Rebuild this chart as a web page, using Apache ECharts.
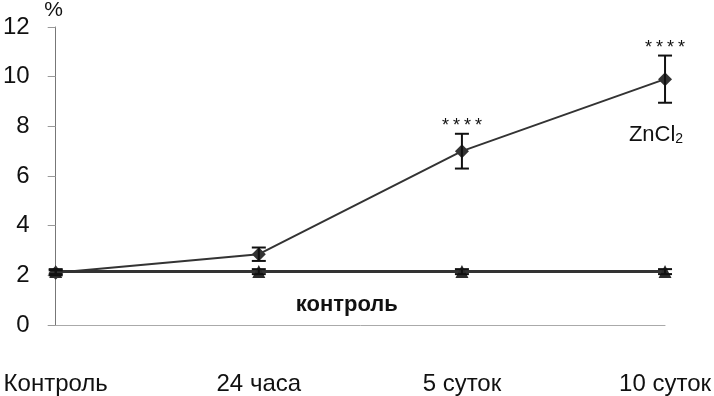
<!DOCTYPE html>
<html>
<head>
<meta charset="utf-8">
<script src="https://cdn.jsdelivr.net/npm/echarts@6/dist/echarts.min.js"></script>
<style>html,body{margin:0;padding:0;background:#fff}#c{width:714px;height:396px}</style>
</head>
<body>
<div id="c"></div>
<script>
const categories = ['Контроль', '24 часа', '5 суток', '10 суток'];
const zncl2 = [2.1, 2.85, 7.0, 9.9];
const zncl2Err = [0.1, 0.27, 0.7, 0.95];
const control = [2.15, 2.15, 2.15, 2.15];
const controlErr = [0.1, 0.1, 0.1, 0.1];
const significance = ['', '', '****', '****'];
const yTicks = [0, 2, 4, 6, 8, 10, 12];

const FONT = '"Liberation Sans Narrow", "Arial Narrow", "Liberation Sans", sans-serif';

const errData = zncl2.map((v, i) => [i, v - zncl2Err[i], v + zncl2Err[i], significance[i]]);
const ctrlErrData = control.map((v, i) => [i, v - controlErr[i], v + controlErr[i], '']);

function renderErr(params, api) {
  const i = api.value(0);
  const lo = api.coord([i, api.value(1)]);
  const hi = api.coord([i, api.value(2)]);
  const sig = significance[params.dataIndex];
  const cap = 7;
  const style = { stroke: '#111', lineWidth: 2 };
  const children = [
    { type: 'line', shape: { x1: hi[0], y1: hi[1], x2: lo[0], y2: lo[1] }, style },
    { type: 'line', shape: { x1: hi[0] - cap, y1: hi[1], x2: hi[0] + cap, y2: hi[1] }, style },
    { type: 'line', shape: { x1: lo[0] - cap, y1: lo[1], x2: lo[0] + cap, y2: lo[1] }, style }
  ];
  if (params.seriesName === 'errZn' && sig) {
    const chars = sig.split('');
    const step = 11;
    chars.forEach((ch, k) => {
      children.push({
        type: 'text',
        x: hi[0] + (k - (chars.length - 1) / 2) * step,
        y: hi[1] - 17,
        style: { text: ch, fill: '#111', font: '18px ' + FONT, align: 'center', verticalAlign: 'top' }
      });
    });
  }
  return { type: 'group', children };
}

const chart = echarts.init(document.getElementById('c'), null, { renderer: 'canvas' });
chart.setOption({
  animation: false,
  backgroundColor: '#fff',
  grid: { left: 54, right: 45, top: 27, bottom: 70, containLabel: false },
  xAxis: {
    type: 'category',
    data: categories,
    boundaryGap: false,
    axisLine: { show: true, lineStyle: { color: '#aaa', width: 1 } },
    axisTick: { show: false },
    axisLabel: { margin: 47, color: '#111', fontSize: 24, fontFamily: FONT },
    splitLine: { show: false }
  },
  yAxis: {
    type: 'value',
    min: yTicks[0],
    max: yTicks[yTicks.length - 1],
    interval: 2,
    name: '%',
    nameGap: 6,
    nameTextStyle: { color: '#111', fontSize: 21, fontFamily: FONT, align: 'center', padding: [0, 4, 0, 0] },
    axisLine: { show: true, lineStyle: { color: '#777', width: 1 } },
    axisTick: { show: true, inside: false, length: 8, lineStyle: { color: '#999' } },
    axisLabel: { margin: 26, color: '#111', fontSize: 24, fontFamily: FONT },
    splitLine: { show: false }
  },
  series: [
    {
      name: 'контроль',
      type: 'line',
      data: control,
      symbol: 'triangle',
      symbolSize: 13,
      itemStyle: { color: '#2b2b2b' },
      lineStyle: { color: '#333', width: 3 },
      z: 3,
      markPoint: {
        symbol: 'circle',
        symbolSize: 0,
        data: [{ coord: [categories[1], control[1]], value: 'контроль' }],
        label: {
          show: true,
          formatter: 'контроль',
          offset: [88, 33],
          color: '#111',
          fontSize: 22,
          fontWeight: 'bold',
          fontFamily: FONT
        }
      }
    },
    {
      name: 'ZnCl2',
      type: 'line',
      data: zncl2,
      symbol: 'diamond',
      symbolSize: 14,
      itemStyle: { color: '#333' },
      lineStyle: { color: '#333', width: 2 },
      z: 4,
      markPoint: {
        symbol: 'circle',
        symbolSize: 0,
        data: [{ coord: [categories[3], zncl2[3]], value: 'ZnCl2' }],
        label: {
          show: true,
          formatter: 'ZnCl{s|2}',
          offset: [-9, 56],
          color: '#111',
          fontSize: 22,
          fontFamily: FONT,
          rich: { s: { fontSize: 14, fontFamily: FONT, color: '#111', verticalAlign: 'bottom', padding: [8, 0, 0, 0] } }
        }
      }
    },
    {
      name: 'errZn',
      type: 'custom',
      data: errData,
      renderItem: renderErr,
      encode: { x: 0, y: [1, 2] },
      z: 5
    },
    {
      name: 'errCtrl',
      type: 'custom',
      data: ctrlErrData,
      renderItem: renderErr,
      encode: { x: 0, y: [1, 2] },
      z: 5
    }
  ]
});
</script>
</body>
</html>
